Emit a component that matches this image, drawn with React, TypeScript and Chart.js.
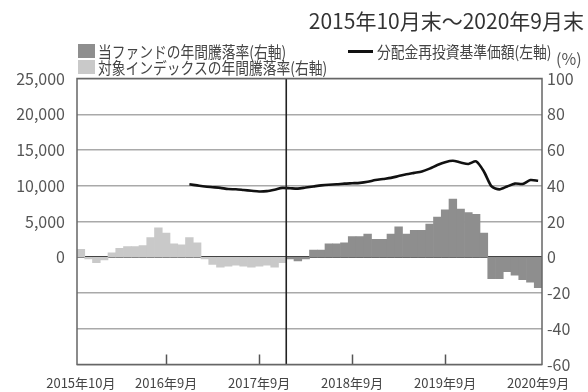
import React, { useEffect, useRef } from 'react';
import { Chart, registerables } from 'chart.js';

Chart.register(...registerables);

const FONT = "'Noto Sans CJK JP', 'Noto Sans', sans-serif";

const categories = [
  '2015年10月', '2015年11月', '2015年12月',
  '2016年1月', '2016年2月', '2016年3月', '2016年4月', '2016年5月', '2016年6月',
  '2016年7月', '2016年8月', '2016年9月', '2016年10月', '2016年11月', '2016年12月',
  '2017年1月', '2017年2月', '2017年3月', '2017年4月', '2017年5月', '2017年6月',
  '2017年7月', '2017年8月', '2017年9月', '2017年10月', '2017年11月', '2017年12月',
  '2018年1月', '2018年2月', '2018年3月', '2018年4月', '2018年5月', '2018年6月',
  '2018年7月', '2018年8月', '2018年9月', '2018年10月', '2018年11月', '2018年12月',
  '2019年1月', '2019年2月', '2019年3月', '2019年4月', '2019年5月', '2019年6月',
  '2019年7月', '2019年8月', '2019年9月', '2019年10月', '2019年11月', '2019年12月',
  '2020年1月', '2020年2月', '2020年3月', '2020年4月', '2020年5月', '2020年6月',
  '2020年7月', '2020年8月', '2020年9月',
];

const xTickLabels = ['2015年10月', '2016年9月', '2017年9月', '2018年9月', '2019年9月', '2020年9月'];
const innerTickMonths = ['2016年9月', '2017年9月', '2018年9月', '2019年9月'];
const dividerAfter = '2017年12月';

// 対象インデックスの年間騰落率 (%), right axis
const indexReturn = [
  4.5, -1, -3, -1.5, 2.5, 5, 6, 6, 6.5, 11, 16.5, 13.5, 7.5, 7, 11,
  8, -1, -4, -5.5, -5, -4.5, -5, -5.5, -5, -4.5, -5.5, -3,
  null, null, null, null, null, null, null, null, null, null, null, null,
  null, null, null, null, null, null, null, null, null, null, null, null,
  null, null, null, null, null, null, null, null, null,
];

// 当ファンドの年間騰落率 (%), right axis
const fundReturn = [
  null, null, null, null, null, null, null, null, null, null, null, null,
  null, null, null, null, null, null, null, null, null, null, null, null,
  null, null, null,
  -1, -2, -1, 4, 4, 7.5, 7.5, 8, 11.5, 11.5, 13, 10,
  10, 13, 17, 13, 15, 15, 18.5, 22.5, 26.5, 32.5, 27, 25,
  24, 13.5, -12, -12, -8, -10, -12.5, -14, -17,
];

// 分配金再投資基準価額 (円), left axis
const nav = [
  null, null, null, null, null, null, null, null, null, null, null, null,
  null, null,
  10200, 10050, 9900, 9800, 9700, 9550, 9500, 9400, 9300, 9200, 9250, 9450,
  9700, 9650, 9600, 9750, 9900, 10050, 10150, 10200, 10300, 10350, 10400, 10550,
  10800, 10950, 11100, 11350, 11600, 11800, 12000, 12400, 12900, 13300, 13500, 13250,
  13050, 13400, 12000, 9900, 9500, 9900, 10300, 10250, 10800, 10700,
];

const leftMin = -15000;
const leftMax = 25000;
const leftStep = 5000;
const rightMin = -60;
const rightMax = 100;
const rightStep = 20;

const titleText = '2015年10月末～2020年9月末';
const fundLabel = '当ファンドの年間騰落率(右軸)';
const indexLabel = '対象インデックスの年間騰落率(右軸)';
const navLabel = '分配金再投資基準価額(左軸)';

const fundColor = '#8e8e8e';
const indexColor = '#c9c9c9';
const navColor = '#111111';

const framePlugin = {
  id: 'framePlugin',
  afterDatasetsDraw(chart: any) {
    const { ctx, chartArea: a, scales } = chart;
    const x = scales.x;
    ctx.save();
    ctx.strokeStyle = '#555';
    ctx.lineWidth = 1.5;
    innerTickMonths.forEach((m) => {
      const px = Math.round(x.getPixelForValue(categories.indexOf(m))) + 0.5;
      ctx.beginPath();
      ctx.moveTo(px, a.bottom);
      ctx.lineTo(px, a.bottom - 10);
      ctx.stroke();
    });
    const i = categories.indexOf(dividerAfter);
    const dx = (x.getPixelForValue(i) + x.getPixelForValue(i + 1)) / 2;
    ctx.strokeStyle = '#222';
    ctx.lineWidth = 1.6;
    ctx.beginPath();
    ctx.moveTo(dx, a.top);
    ctx.lineTo(dx, a.bottom);
    ctx.stroke();
    ctx.strokeStyle = '#666';
    ctx.lineWidth = 1.5;
    ctx.strokeRect(a.left, a.top, a.right - a.left, a.bottom - a.top);
    ctx.restore();
  },
};

export default function App() {
  const canvasRef = useRef<HTMLCanvasElement | null>(null);

  useEffect(() => {
    if (!canvasRef.current) return;
    const chart = new Chart(canvasRef.current, {
      type: 'bar',
      data: {
        labels: categories,
        datasets: [
          {
            type: 'line',
            label: navLabel,
            data: nav,
            yAxisID: 'yL',
            borderColor: navColor,
            borderWidth: 2.6,
            pointRadius: 0,
            tension: 0.25,
            spanGaps: false,
            order: 0,
          } as any,
          {
            type: 'bar',
            label: fundLabel,
            data: fundReturn,
            yAxisID: 'yR',
            backgroundColor: fundColor,
            barPercentage: 1,
            categoryPercentage: 1,
            grouped: false,
            order: 1,
          } as any,
          {
            type: 'bar',
            label: indexLabel,
            data: indexReturn,
            yAxisID: 'yR',
            backgroundColor: indexColor,
            barPercentage: 1,
            categoryPercentage: 1,
            grouped: false,
            order: 2,
          } as any,
        ],
      },
      options: {
        responsive: false,
        animation: false,
        layout: { padding: { top: 78.5, left: 0, right: 0, bottom: 0 } },
        plugins: {
          legend: { display: false },
          tooltip: { enabled: false },
          title: { display: false },
        },
        scales: {
          x: {
            type: 'category',
            offset: true,
            grid: { display: false, drawTicks: false },
            border: { display: false },
            ticks: {
              autoSkip: false,
              maxRotation: 0,
              minRotation: 0,
              padding: 11,
              color: '#444',
              font: { family: FONT, size: 13 },
              callback: function (this: any, value: any) {
                const lab = this.getLabelForValue(value);
                return xTickLabels.includes(lab) ? lab : '';
              },
            },
            afterFit: (s: any) => { s.height = 27.5; },
          },
          yL: {
            type: 'linear',
            position: 'left',
            min: leftMin,
            max: leftMax,
            border: { display: false },
            grid: {
              drawTicks: false,
              color: (c: any) => (c.tick && c.tick.value === 0 ? '#444' : '#a9a9a9'),
              lineWidth: (c: any) => (c.tick && c.tick.value === 0 ? 2 : 1.5),
            },
            ticks: {
              stepSize: leftStep,
              padding: 12,
              color: '#555',
              font: { family: FONT, size: 16 },
              callback: (v: any) => (Number(v) < 0 ? '' : Number(v).toLocaleString('en-US')),
            },
            afterFit: (s: any) => { s.width = 77; },
          },
          yR: {
            type: 'linear',
            position: 'right',
            min: rightMin,
            max: rightMax,
            border: { display: false },
            grid: { display: false, drawTicks: false },
            ticks: {
              stepSize: rightStep,
              padding: 5,
              color: '#555',
              font: { family: FONT, size: 16 },
            },
            afterFit: (s: any) => { s.width = 46; },
          },
        },
      } as any,
      plugins: [framePlugin],
    });
    return () => chart.destroy();
  }, []);

  const legendText: React.CSSProperties = {
    position: 'absolute',
    fontFamily: FONT,
    fontSize: 16,
    lineHeight: '18px',
    color: '#444',
    whiteSpace: 'nowrap',
    transform: 'scaleX(0.86)',
    transformOrigin: 'left center',
  };

  return (
    <div style={{ position: 'absolute', left: 0, top: 0, width: 588, height: 392, background: '#fff', overflow: 'hidden' }}>
      <canvas ref={canvasRef} width={588} height={392} style={{ position: 'absolute', left: 0, top: 0 }} />
      <div style={{ position: 'absolute', right: 4, top: 8, fontFamily: FONT, fontSize: 21, lineHeight: '24px', color: '#333', whiteSpace: 'nowrap' }}>
        {titleText}
      </div>
      <div style={{ position: 'absolute', left: 78, top: 44, width: 17, height: 14, background: fundColor }} />
      <div style={{ ...legendText, left: 98, top: 42 }}>{fundLabel}</div>
      <div style={{ position: 'absolute', left: 78, top: 60, width: 17, height: 14, background: indexColor }} />
      <div style={{ ...legendText, left: 98, top: 58 }}>{indexLabel}</div>
      <div style={{ position: 'absolute', left: 348, top: 49.5, width: 25, height: 3.5, background: navColor }} />
      <div style={{ ...legendText, left: 377, top: 42 }}>{navLabel}</div>
      <div style={{ position: 'absolute', left: 556, top: 49, fontFamily: FONT, fontSize: 16, lineHeight: '18px', color: '#555' }}>(%)</div>
    </div>
  );
}
